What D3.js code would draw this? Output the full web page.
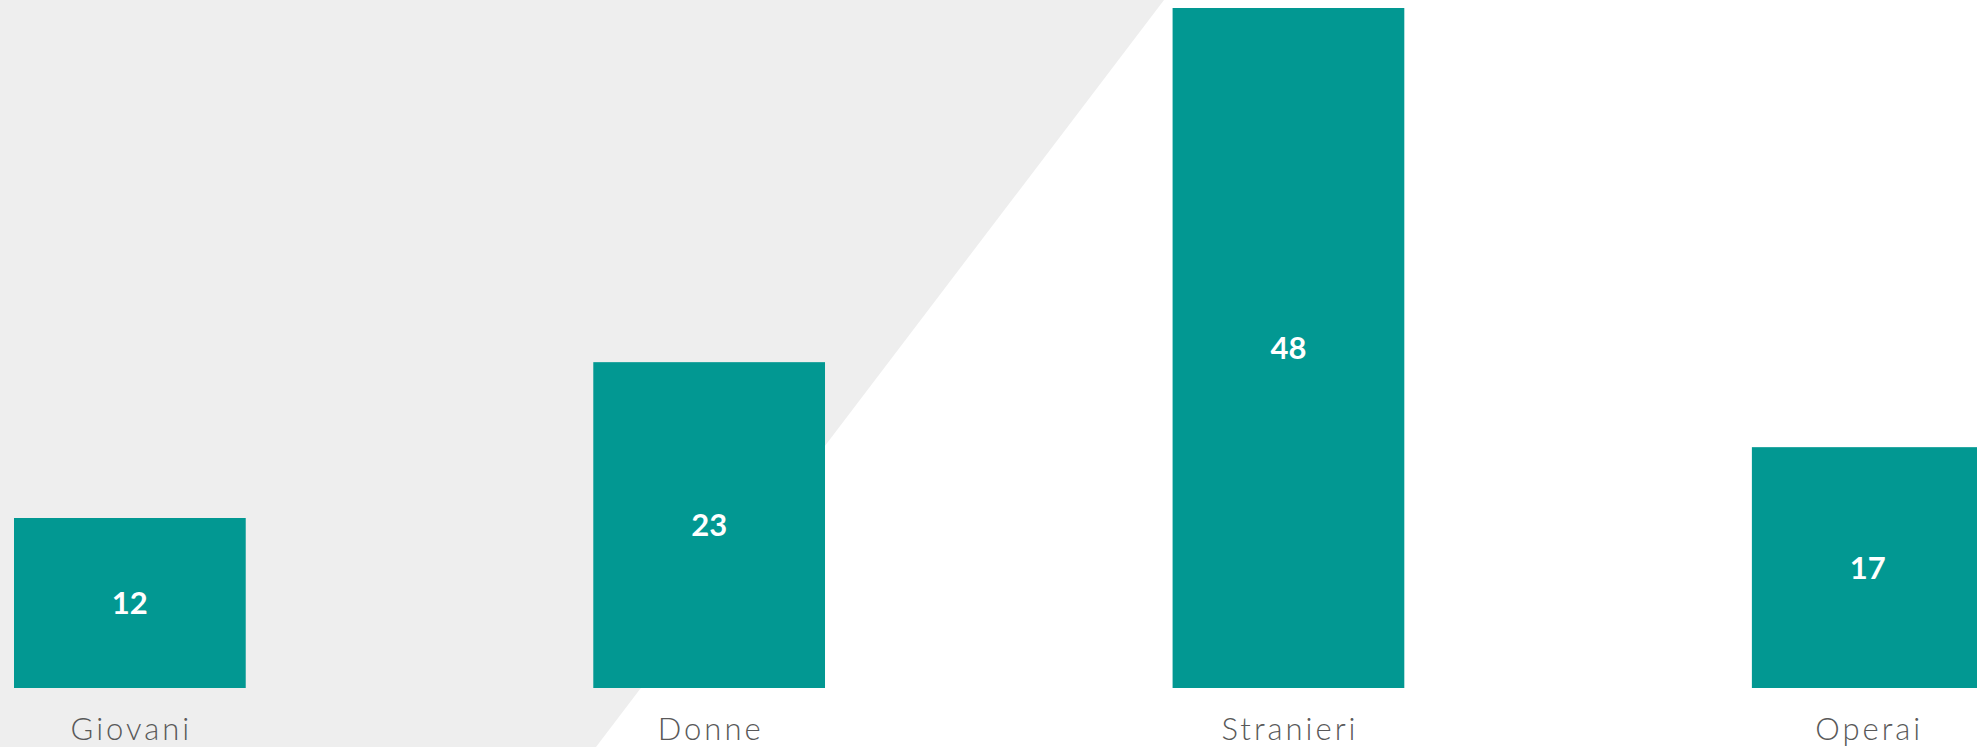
<!DOCTYPE html>
<html>
<head>
<meta charset="utf-8">
<script src="https://cdn.jsdelivr.net/npm/d3@7"></script>
<style>
  html, body { margin: 0; padding: 0; background: #ffffff; overflow: hidden; }
  svg { display: block; }
</style>
</head>
<body>
<div id="chart"></div>
<script>
// chart data
const categories = ['Giovani', 'Donne', 'Stranieri', 'Operai'];
const values = [12, 23, 48, 17];

const w = 1977;
const h = 747;

drawChart();

function drawChart() {
  const svg = d3.select('#chart')
      .append('svg')
      .attr('width', w)
      .attr('height', h);

  // grey slanted backdrop on the left
  svg.append('polygon')
      .attr('points', '0,0 1164,0 596,747 0,747')
      .attr('fill', '#eeeeee');

  // scales
  const xScale = d3.scaleBand()
      .domain(categories)
      .range([14, 1983.6])
      .paddingInner(0.6)
      .paddingOuter(0);

  const yScale = d3.scaleLinear()
      .domain([0, d3.max(values)])
      .range([688, 8]);

  const rows = categories.map((c, i) => ({cat: c, val: values[i]}));

  // bars
  svg.selectAll('rect.bar')
      .data(rows)
      .enter()
      .append('rect')
      .attr('class', 'bar')
      .attr('x', (d) => xScale(d.cat))
      .attr('y', (d) => yScale(d.val))
      .attr('width', xScale.bandwidth())
      .attr('height', (d) => yScale(0) - yScale(d.val))
      .attr('fill', '#029892');

  // value labels in the middle of the bars
  svg.selectAll('text.val')
      .data(rows)
      .enter()
      .append('text')
      .attr('class', 'val')
      .attr('x', (d) => xScale(d.cat) + xScale.bandwidth() / 2)
      .attr('y', (d) => yScale(d.val / 2))
      .attr('dy', '0.36em')
      .attr('text-anchor', 'middle')
      .attr('fill', '#ffffff')
      .style('font-family', 'Lato, "Noto Sans", sans-serif')
      .style('font-weight', 700)
      .style('font-size', '31px')
      .text((d) => d.val);

  // category axis, no line or ticks
  const xAxis = d3.axisBottom(xScale).tickSize(0).tickPadding(0);
  const gx = svg.append('g')
      .attr('transform', 'translate(0,' + yScale(0) + ')')
      .call(xAxis);
  gx.select('.domain').remove();
  gx.selectAll('text')
      .attr('x', 1.5)
      .attr('y', 52)
      .attr('dy', 0)
      .attr('fill', '#595959')
      .style('font-family', 'Lato, "Noto Sans", sans-serif')
      .style('font-weight', 300)
      .style('font-size', '31px')
      .style('letter-spacing', '3px');
}
</script>
</body>
</html>
